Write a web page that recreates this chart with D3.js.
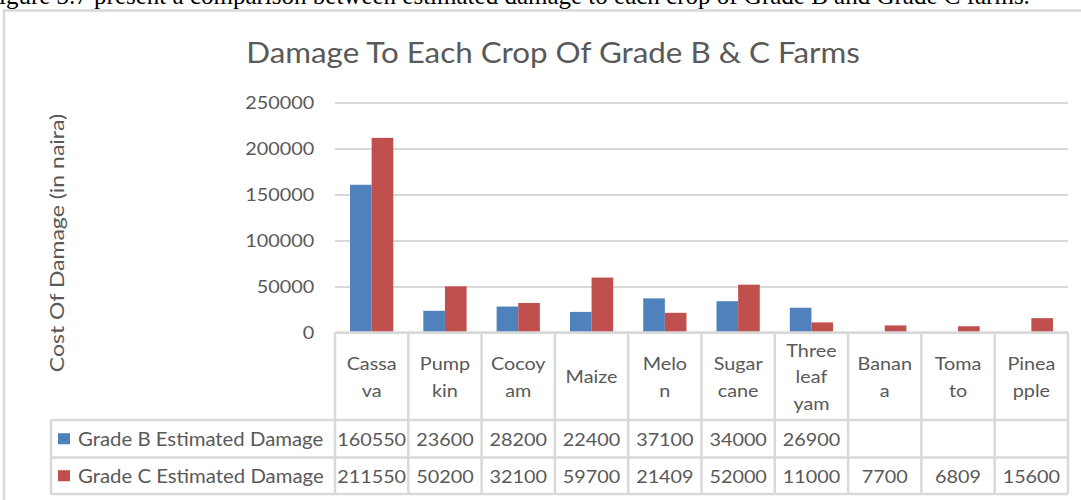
<!DOCTYPE html>
<html>
<head>
<meta charset="utf-8">
<script src="https://cdn.jsdelivr.net/npm/d3@7"></script>
<style>
  body { margin: 0; background: #fff; }
  text { font-family: Lato, "Open Sans", sans-serif; fill: #595959; }
</style>
</head>
<body>
<div class="chart"></div>
<script>
// Damage to each crop, grade B & C farms

var categories = ["Cassava", "Pumpkin", "Cocoyam", "Maize", "Melon", "Sugarcane", "Threeleafyam", "Banana", "Tomato", "Pineapple"];
var categoryLines = [["Cassa", "va"], ["Pump", "kin"], ["Cocoy", "am"], ["Maize"], ["Melo", "n"],
    ["Sugar", "cane"], ["Three", "leaf", "yam"], ["Banan", "a"], ["Toma", "to"], ["Pinea", "pple"]];
var seriesNames = ["Grade B Estimated Damage", "Grade C Estimated Damage"];
var gradeB = [160550, 23600, 28200, 22400, 37100, 34000, 26900, null, null, null];
var gradeC = [211550, 50200, 32100, 59700, 21409, 52000, 11000, 7700, 6809, 15600];
var yTicks = [0, 50000, 100000, 150000, 200000, 250000];
var colors = ["#4f81bd", "#c0504d"];

var svgWidth = 1081;
var svgHeight = 500;
var SX = 1.1; // horizontal stretch of the original picture's text

var plot = { left: 335, right: 1068, top: 102.5, bottom: 332.5 };
var tableRows = [332.5, 420, 457.5, 494];
var legendLeft = 51;

var svg = d3.select(".chart")
    .append("svg")
    .attr("width", svgWidth)
    .attr("height", svgHeight);

function stext(g, x, y, str, size, anchor) {
    return g.append("text")
        .attr("transform", "translate(" + x + "," + y + ") scale(" + SX + ",1)")
        .attr("text-anchor", anchor || "middle")
        .attr("dominant-baseline", "central")
        .style("font-size", size + "px")
        .text(str);
}

// caption of the page above the chart (cut off at the top)
svg.append("text")
    .attr("x", -1)
    .attr("y", 4)
    .style("font-family", "'Liberation Serif', serif")
    .style("font-size", "25px")
    .style("fill", "#000")
    .text("igure 3.7 present a comparison between estimated damage to each crop of Grade B and Grade C farms.");

// chart frame
svg.append("rect")
    .attr("x", 4)
    .attr("y", 10.5)
    .attr("width", 1200)
    .attr("height", 600)
    .attr("fill", "none")
    .attr("stroke", "#d9d9d9")
    .attr("stroke-width", 2.5);

// scales
var xScale = d3.scaleBand()
    .domain(categories)
    .range([plot.left, plot.right]);

var pad = xScale.bandwidth() * 0.205;
var xInner = d3.scaleBand()
    .domain([0, 1])
    .range([pad, xScale.bandwidth() - pad]);

var yScale = d3.scaleLinear()
    .domain([0, 250000])
    .range([plot.bottom, plot.top]);

// gridlines + y tick labels
var leftAxis = d3.axisLeft(yScale)
    .tickValues(yTicks)
    .tickSize(-(plot.right - plot.left))
    .tickPadding(19)
    .tickFormat(d3.format("d"));

var yAxis = svg.append("g")
    .attr("transform", "translate(" + plot.left + ",0)")
    .call(leftAxis);

yAxis.select(".domain").remove();
yAxis.selectAll("line")
    .attr("stroke", "#d9d9d9")
    .attr("stroke-width", 2);
yAxis.selectAll("text")
    .attr("transform", "scale(" + SX + ",1)")
    .attr("dy", "0.35em")
    .style("font-family", "Lato, sans-serif")
    .style("font-size", "18px")
    .style("fill", "#595959");

// bars
var series = [gradeB, gradeC];
series.forEach(function(values, s) {
    svg.append("g")
        .selectAll("rect")
        .data(values.map(function(v, i) { return { cat: categories[i], value: v }; })
            .filter(function(d) { return d.value !== null; }))
        .enter()
        .append("rect")
        .attr("x", function(d) { return xScale(d.cat) + xInner(s); })
        .attr("y", function(d) { return yScale(d.value); })
        .attr("width", xInner.bandwidth())
        .attr("height", function(d) { return yScale(0) - yScale(d.value); })
        .attr("fill", colors[s]);
});

// data table
var table = svg.append("g");
var lineColor = "#d9d9d9";

// horizontal lines
tableRows.forEach(function(y, i) {
    table.append("line")
        .attr("x1", i === 0 ? plot.left : legendLeft)
        .attr("x2", plot.right)
        .attr("y1", y)
        .attr("y2", y)
        .attr("stroke", lineColor)
        .attr("stroke-width", 2.5);
});

// vertical lines
categories.concat(["end"]).forEach(function(c, i) {
    var x = i < categories.length ? xScale(c) : plot.right;
    table.append("line")
        .attr("x1", x)
        .attr("x2", x)
        .attr("y1", tableRows[0])
        .attr("y2", tableRows[3])
        .attr("stroke", lineColor)
        .attr("stroke-width", 2.5);
});
table.append("line")
    .attr("x1", legendLeft)
    .attr("x2", legendLeft)
    .attr("y1", tableRows[1])
    .attr("y2", tableRows[3])
    .attr("stroke", lineColor)
    .attr("stroke-width", 2.5);

// category labels
var headerMid = (tableRows[0] + tableRows[1]) / 2;
var lineH = 26.5;
categoryLines.forEach(function(lines, i) {
    var cx = xScale(categories[i]) + xScale.bandwidth() / 2;
    lines.forEach(function(str, j) {
        stext(table, cx, headerMid + (j - (lines.length - 1) / 2) * lineH, str, 18);
    });
});

// legend cells + values
series.forEach(function(values, s) {
    var rowMid = (tableRows[s + 1] + tableRows[s + 2]) / 2;
    table.append("rect")
        .attr("x", 58)
        .attr("y", rowMid - 5.5)
        .attr("width", 12)
        .attr("height", 11)
        .attr("fill", colors[s]);
    stext(table, 78, rowMid, seriesNames[s], 18.5, "start");
    values.forEach(function(v, i) {
        if (v === null) return;
        stext(table, xScale(categories[i]) + xScale.bandwidth() / 2, rowMid, v, 18);
    });
});

// title
stext(svg, 553, 52, "Damage To Each Crop Of Grade B & C Farms", 28.5);

// y axis title
svg.append("text")
    .attr("transform", "translate(57,243) rotate(-90) scale(1.15,1)")
    .attr("text-anchor", "middle")
    .attr("dominant-baseline", "central")
    .style("font-size", "20px")
    .text("Cost Of Damage (in naira)");
</script>
</body>
</html>
